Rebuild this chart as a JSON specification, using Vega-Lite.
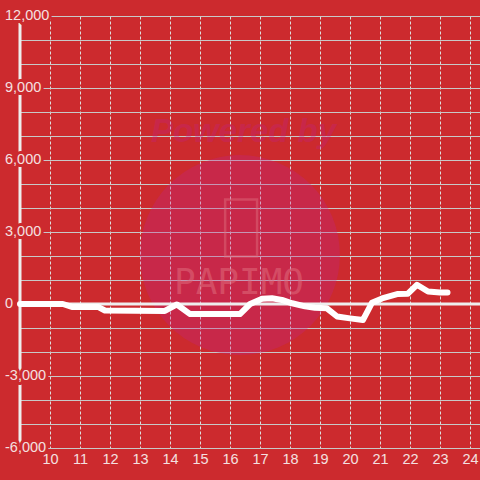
{
  "$schema": "https://vega.github.io/schema/vega-lite/v6.json",
  "width": 460,
  "height": 432,
  "autosize": "none",
  "padding": {"left": 20, "top": 16, "right": 0, "bottom": 32},
  "background": "#cc2a2e",
  "config": {
    "view": {"stroke": null},
    "font": "Liberation Sans",
    "axisX": {"grid": true, "gridColor": "#dddddd", "gridDash": [3, 2], "gridWidth": 1, "domain": false, "ticks": false, "labelColor": "#f4e0e0", "labelFont": "Liberation Sans", "labelFontSize": 14.5, "labelPadding": 4, "title": null, "zindex": 0},
    "axisY": {"grid": true, "gridColor": "#c8c8c8", "gridWidth": 1, "domain": false, "ticks": false, "labels": false, "title": null, "zindex": 0}
  },
  "datasets": {
    "pnl": [
      {"hour": 9.0, "value": 0},
      {"hour": 10.43, "value": 0},
      {"hour": 10.73, "value": -120},
      {"hour": 11.6, "value": -120},
      {"hour": 11.83, "value": -270},
      {"hour": 12.83, "value": -280},
      {"hour": 13.83, "value": -290},
      {"hour": 14.23, "value": -20},
      {"hour": 14.67, "value": -420},
      {"hour": 16.33, "value": -420},
      {"hour": 16.67, "value": 0},
      {"hour": 17.07, "value": 220},
      {"hour": 17.4, "value": 240},
      {"hour": 17.73, "value": 170},
      {"hour": 18.07, "value": 30},
      {"hour": 18.5, "value": -100},
      {"hour": 18.83, "value": -160},
      {"hour": 19.23, "value": -180},
      {"hour": 19.57, "value": -520},
      {"hour": 20.0, "value": -600},
      {"hour": 20.43, "value": -670},
      {"hour": 20.73, "value": 50},
      {"hour": 21.07, "value": 230},
      {"hour": 21.6, "value": 420},
      {"hour": 21.93, "value": 430},
      {"hour": 22.23, "value": 800},
      {"hour": 22.6, "value": 520},
      {"hour": 23.0, "value": 480},
      {"hour": 23.25, "value": 480}
    ],
    "yticks": [
      {"v": -6000}, {"v": -3000}, {"v": 0}, {"v": 3000}, {"v": 6000}, {"v": 9000}, {"v": 12000}
    ],
    "one": [{"k": 1}]
  },
  "encoding": {
    "x": {"type": "quantitative", "scale": {"domain": [9, 24.333], "nice": false, "zero": false}, "axis": {"values": [10, 11, 12, 13, 14, 15, 16, 17, 18, 19, 20, 21, 22, 23, 24]}},
    "y": {"type": "quantitative", "scale": {"domain": [-6000, 12000], "nice": false, "zero": false}, "axis": {"values": [-6000, -5000, -4000, -3000, -2000, -1000, 0, 1000, 2000, 3000, 4000, 5000, 6000, 7000, 8000, 9000, 10000, 11000, 12000]}}
  },
  "layer": [
    {
      "data": {"name": "pnl"},
      "mark": {"type": "line", "color": "#ffffff", "strokeWidth": 0, "opacity": 0},
      "encoding": {
        "x": {"field": "hour", "type": "quantitative", "scale": {"domain": [9, 24.333], "nice": false, "zero": false}, "axis": {"values": [10, 11, 12, 13, 14, 15, 16, 17, 18, 19, 20, 21, 22, 23, 24]}},
        "y": {"field": "value", "type": "quantitative", "scale": {"domain": [-6000, 12000], "nice": false, "zero": false}, "axis": {"values": [-6000, -5000, -4000, -3000, -2000, -1000, 0, 1000, 2000, 3000, 4000, 5000, 6000, 7000, 8000, 9000, 10000, 11000, 12000]}}
      }
    },
    {
      "data": {"name": "one"},
      "mark": {"type": "point", "filled": true, "color": "#c02389", "opacity": 0.3, "size": 40000},
      "encoding": {
        "x": {"datum": 16.33, "type": "quantitative"},
        "y": {"datum": 2040, "type": "quantitative"}
      }
    },
    {
      "data": {"name": "one"},
      "mark": {"type": "text", "text": "Powered by", "font": "Liberation Sans", "fontSize": 33, "fontWeight": "bold", "fontStyle": "italic", "color": "#c02389", "opacity": 0.3, "align": "center", "baseline": "middle"},
      "encoding": {
        "x": {"datum": 16.45, "type": "quantitative"},
        "y": {"datum": 7150, "type": "quantitative"}
      }
    },
    {
      "data": {"name": "one"},
      "mark": {"type": "point", "filled": false, "shape": "M -0.56 -1 H 0.56 V 1 H -0.56 Z", "color": "#e07080", "opacity": 0.45, "strokeWidth": 2.5, "size": 3249},
      "encoding": {
        "x": {"datum": 16.37, "type": "quantitative"},
        "y": {"datum": 3170, "type": "quantitative"}
      }
    },
    {
      "data": {"name": "one"},
      "mark": {"type": "text", "text": "PAPIMO", "font": "DejaVu Sans Mono", "fontSize": 36, "color": "#e07080", "opacity": 0.5, "align": "center", "baseline": "middle"},
      "encoding": {
        "x": {"datum": 16.3, "type": "quantitative"},
        "y": {"datum": 875, "type": "quantitative"}
      }
    },
    {
      "data": {"name": "one"},
      "mark": {"type": "rule", "color": "#eeeeee", "strokeWidth": 3},
      "encoding": {
        "y": {"datum": 0, "type": "quantitative"}
      }
    },
    {
      "data": {"name": "one"},
      "mark": {"type": "rule", "color": "#eeeeee", "strokeWidth": 3},
      "encoding": {
        "x": {"datum": 9, "type": "quantitative"}
      }
    },
    {
      "data": {"name": "yticks"},
      "mark": {"type": "text", "align": "left", "baseline": "middle", "dx": -15, "font": "Liberation Sans", "fontSize": 14.5, "fill": "#cc2a2e", "stroke": "#cc2a2e", "strokeWidth": 6, "strokeJoin": "round", "text": {"expr": "replace(format(datum.v, ','), '\u2212', '-')"}},
      "encoding": {
        "x": {"datum": 9, "type": "quantitative"},
        "y": {"field": "v", "type": "quantitative"}
      }
    },
    {
      "data": {"name": "yticks"},
      "mark": {"type": "text", "align": "left", "baseline": "middle", "dx": -15, "font": "Liberation Sans", "fontSize": 14.5, "fill": "#f4e0e0", "text": {"expr": "replace(format(datum.v, ','), '\u2212', '-')"}},
      "encoding": {
        "x": {"datum": 9, "type": "quantitative"},
        "y": {"field": "v", "type": "quantitative"}
      }
    },
    {
      "data": {"name": "pnl"},
      "mark": {"type": "line", "color": "#ffffff", "strokeWidth": 6, "strokeCap": "round", "strokeJoin": "round"},
      "encoding": {
        "x": {"field": "hour", "type": "quantitative"},
        "y": {"field": "value", "type": "quantitative"}
      }
    }
  ]
}
